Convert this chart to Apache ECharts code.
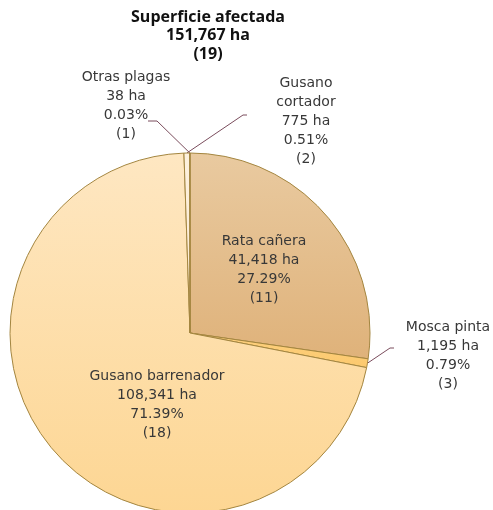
<!doctype html>
<html>
<head>
  <meta charset="utf-8">
  <script src="https://cdn.jsdelivr.net/npm/echarts@6/dist/echarts.min.js"></script>
  <style>
    html, body { margin: 0; padding: 0; background: #fff; }
    #chart { width: 493px; height: 510px; }
  </style>
</head>
<body>
  <div id="chart"></div>
  <script>
    // datos (orden horario desde las 12)
    var plagas = ['Rata cañera', 'Mosca pinta', 'Gusano barrenador', 'Gusano cortador', 'Otras plagas'];
    var hectareas = [41418, 1195, 108341, 775, 38];
    var casos = [11, 3, 18, 2, 1];
    var totalHa = 151767;
    var totalCasos = 19;

    // estilos
    var colores = [
      ['#e9caa0', '#dfb27a'],
      ['#fdd07e', '#fcc96e'],
      ['#fee7c2', '#fdd693'],
      ['#fdf1de', '#fbe9cf'],
      ['#fdf2e0', '#fdf2e0']
    ];
    // centro del texto de cada etiqueta y quiebre de la linea guia
    var posEtiq = [
      [264, 270],
      [448, 356, [390, 348], [394, 348]],
      [157, 405],
      [306, 121, [243, 115], [247, 115]],
      [126, 106, [157, 121], [148, 121]]
    ];
    var fuera = [false, true, false, true, true];

    function fmt(n) { return n.toLocaleString('en-US'); }

    var datos = plagas.map(function (p, i) {
      return {
        name: p,
        value: hectareas[i],
        itemStyle: {
          color: new echarts.graphic.LinearGradient(0, 0, 0, 1, [
            { offset: 0, color: colores[i][0] },
            { offset: 1, color: colores[i][1] }
          ])
        },
        label: { position: fuera[i] ? 'outside' : 'inside' },
        labelLine: { show: fuera[i] }
      };
    });

    var myChart = echarts.init(document.getElementById('chart'));
    var option = {
      animation: false,
      title: {
        text: 'Superficie afectada\n' + fmt(totalHa) + ' ha\n(' + totalCasos + ')',
        left: 208,
        top: 8,
        padding: 0,
        textAlign: 'center',
        textStyle: {
          fontFamily: 'Open Sans',
          fontSize: 16,
          fontWeight: 'bold',
          lineHeight: 18.5,
          color: '#111'
        }
      },
      series: [{
        type: 'pie',
        center: [190, 333],
        radius: 180,
        startAngle: 90,
        clockwise: true,
        avoidLabelOverlap: false,
        minAngle: 0,
        itemStyle: { borderColor: '#a3853f', borderWidth: 1 },
        label: {
          fontFamily: 'DejaVu Sans',
          fontSize: 14,
          lineHeight: 19,
          color: '#383838',
          align: 'center',
          formatter: function (p) {
            var nombre = p.name === 'Gusano cortador' ? 'Gusano\ncortador' : p.name;
            var pct = (p.value / totalHa * 100).toFixed(2);
            return nombre + '\n' + fmt(p.value) + ' ha\n' + pct + '%\n(' + casos[p.dataIndex] + ')';
          }
        },
        labelLine: {
          lineStyle: { color: '#7a4c5c', width: 1 }
        },
        labelLayout: function (p) {
          var pos = posEtiq[p.dataIndex];
          var out = { x: pos[0], y: pos[1], align: 'center', verticalAlign: 'middle' };
          if (pos[2] && p.labelLinePoints) {
            out.labelLinePoints = [p.labelLinePoints[0], pos[2], pos[3]];
          }
          return out;
        },
        emphasis: { disabled: true },
        data: datos
      }]
    };
    myChart.setOption(option);
  </script>
</body>
</html>
